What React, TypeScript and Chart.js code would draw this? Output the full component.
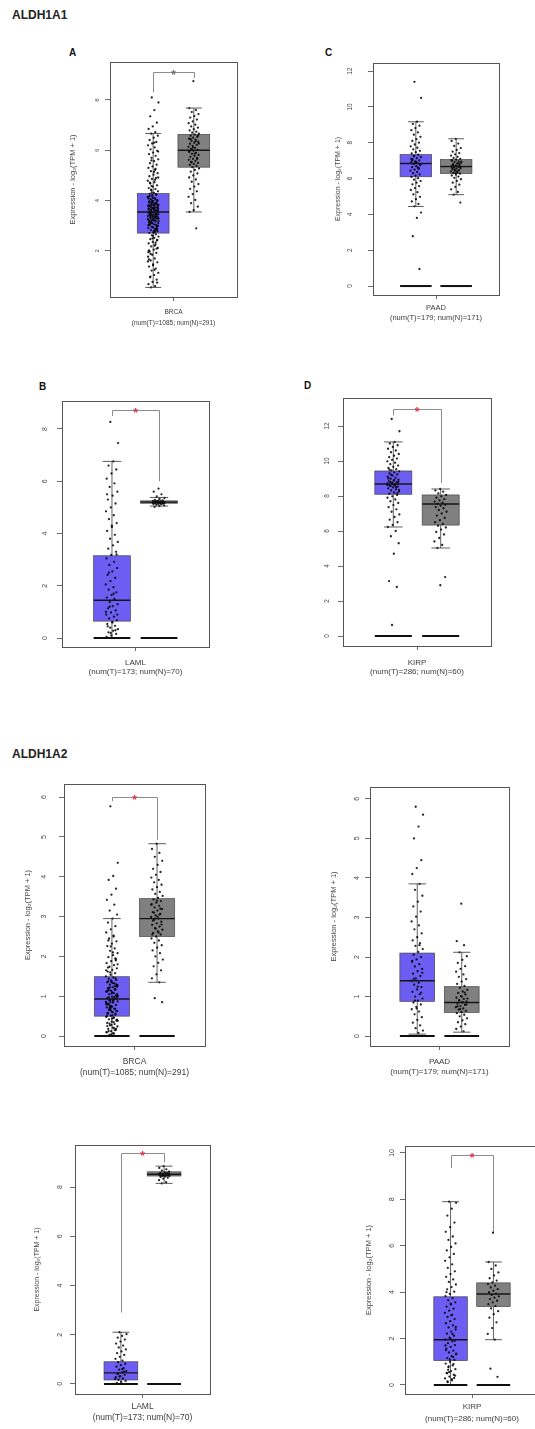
import React, { useEffect, useRef } from "react";
import { Chart, registerables } from "chart.js";

Chart.register(...registerables);

const FONT = '"Liberation Sans", Arial, Helvetica, sans-serif';
Chart.defaults.font.family = FONT;

const yTitleText = "Expression - log\u2082(TPM + 1)";
const groupNames = ["Tumor", "Normal"];
const groupCenters = [-0.32, 0.32];

// ---------------- ALDH1A1 / A: BRCA ----------------
const brca1Label = ["BRCA", "(num(T)=1085; num(N)=291)"];
const brca1Ticks = [2, 4, 6, 8];
const brca1Range = [0.17, 9.51];
const brca1TumorBox = [0.55, 2.71, 3.55, 4.28, 6.67];
const brca1NormalBox = [3.55, 5.33, 6.0, 6.63, 7.68];
const brca1Bracket = [8.3, 9.11, 8.87];
const brca1TumorPts = [8.1, 7.9, 7.6, 7.35, 7.1, 6.95, 6.85, 6.72, 6.66, 6.58, 6.5, 6.41, 6.33, 6.27, 6.2, 6.12, 6.04, 5.98, 5.91, 5.85, 5.78, 5.7, 5.64, 5.57, 5.49, 5.43, 5.36, 5.3, 5.22, 5.17, 5.09, 5.03, 4.97, 4.9, 4.86, 4.79, 4.73, 4.68, 4.61, 4.56, 4.5, 4.46, 4.41, 4.37, 4.31, 4.27, 4.23, 4.18, 4.14, 4.1, 4.06, 4.02, 3.98, 3.95, 3.91, 3.87, 3.83, 3.8, 3.77, 3.73, 3.69, 3.66, 3.62, 3.59, 3.56, 3.52, 3.49, 3.46, 3.42, 3.39, 3.35, 3.32, 3.28, 3.25, 3.21, 3.17, 3.14, 3.1, 3.06, 3.03, 2.99, 2.95, 2.91, 2.87, 2.83, 2.79, 2.75, 2.71, 2.66, 2.62, 2.57, 2.52, 2.47, 2.42, 2.36, 2.3, 2.25, 2.18, 2.12, 2.05, 1.98, 1.92, 1.85, 1.77, 1.7, 1.62, 1.55, 1.47, 1.38, 1.3, 1.22, 1.13, 1.04, 0.95, 0.86, 0.77, 0.68, 0.6, 0.55, 3.61, 3.44, 3.97, 2.88, 3.12, 4.15, 3.71, 3.33, 2.97, 3.55, 3.84, 4.05, 3.23, 3.68, 2.79, 3.49, 3.9, 4.22, 3.02, 3.37, 3.77, 3.58, 2.93, 3.15, 3.86, 4.33, 3.29, 3.64, 3.41, 2.84, 3.95, 3.53, 3.19, 4.44, 3.74, 2.72, 3.07, 3.47, 4.0, 3.26, 2.21, 1.88, 2.44, 2.6, 1.66, 2.33, 4.58, 4.92, 5.14, 4.71, 2.09, 2.5, 1.95, 4.83, 3.63, 3.36, 3.81, 3.05, 3.5, 3.93, 3.18, 3.72, 3.44, 2.9, 4.1, 3.57, 3.3, 3.85, 3.0, 3.66, 4.18, 3.39, 3.1, 3.78, 2.81, 3.54, 3.98, 3.22, 3.69, 4.26, 2.95, 3.46, 3.88, 3.13, 3.6, 3.35, 4.08, 2.76, 3.51, 3.82, 3.27, 3.95, 3.04, 3.71, 1.58, 1.25, 0.98, 0.74, 1.43, 2.02, 5.26, 5.6, 5.95, 6.3];
const brca1NormalPts = [8.75, 7.68, 7.6, 7.52, 7.44, 7.36, 7.3, 7.22, 7.15, 7.08, 7.02, 6.95, 6.9, 6.84, 6.79, 6.74, 6.7, 6.66, 6.62, 6.58, 6.54, 6.5, 6.46, 6.42, 6.38, 6.34, 6.3, 6.26, 6.22, 6.18, 6.14, 6.1, 6.06, 6.02, 5.98, 5.94, 5.9, 5.86, 5.82, 5.78, 5.74, 5.7, 5.66, 5.62, 5.58, 5.54, 5.5, 5.46, 5.42, 5.38, 5.33, 5.28, 5.22, 5.15, 5.08, 5.0, 4.92, 4.84, 4.75, 4.66, 4.56, 4.47, 4.37, 4.26, 4.15, 4.03, 3.9, 3.76, 3.62, 3.55, 2.9, 6.04, 6.27, 5.87, 6.45, 5.65, 6.12, 5.95, 6.36, 5.52, 6.58];

// ---------------- ALDH1A1 / C: PAAD ----------------
const paad1Label = ["PAAD", "(num(T)=179; num(N)=171)"];
const paad1Ticks = [0, 2, 4, 6, 8, 10, 12];
const paad1Range = [-0.5, 12.45];
const paad1TumorBox = [4.44, 6.1, 6.84, 7.34, 9.17];
const paad1NormalBox = [5.1, 6.28, 6.67, 7.06, 8.22];
const paad1TumorPts = [11.4, 10.5, 9.17, 9.05, 8.95, 8.82, 8.7, 8.58, 8.45, 8.33, 8.2, 8.1, 8.0, 7.9, 7.8, 7.72, 7.63, 7.55, 7.47, 7.4, 7.33, 7.27, 7.2, 7.14, 7.08, 7.02, 6.96, 6.9, 6.85, 6.8, 6.75, 6.69, 6.63, 6.57, 6.5, 6.44, 6.37, 6.3, 6.23, 6.16, 6.09, 6.02, 5.94, 5.86, 5.77, 5.68, 5.58, 5.47, 5.36, 5.24, 5.12, 4.98, 4.85, 4.72, 4.58, 4.45, 4.1, 3.8, 2.78, 0.95, 6.88, 7.1, 6.62, 7.25, 6.78, 6.93, 7.0, 6.55];
const paad1NormalPts = [8.22, 8.1, 7.95, 7.82, 7.7, 7.6, 7.5, 7.42, 7.35, 7.28, 7.21, 7.15, 7.1, 7.05, 7.0, 6.96, 6.92, 6.88, 6.84, 6.8, 6.76, 6.72, 6.69, 6.66, 6.62, 6.58, 6.55, 6.51, 6.47, 6.43, 6.39, 6.35, 6.31, 6.27, 6.22, 6.17, 6.11, 6.04, 5.96, 5.87, 5.77, 5.66, 5.54, 5.4, 5.25, 5.1, 4.66, 6.7, 6.6, 6.85, 6.5, 6.95, 6.4, 6.75, 6.65, 6.3, 7.03];

// ---------------- ALDH1A1 / B: LAML ----------------
const laml1Label = ["LAML", "(num(T)=173; num(N)=70)"];
const laml1Ticks = [0, 2, 4, 6, 8];
const laml1Range = [-0.34, 9.07];
const laml1TumorBox = [0, 0.65, 1.45, 3.15, 6.76];
const laml1NormalBox = [5.05, 5.16, 5.2, 5.25, 5.38];
const laml1Bracket = [8.5, 8.72, 6.0];
const laml1TumorPts = [8.27, 7.46, 6.76, 6.6, 6.45, 6.3, 6.1, 5.92, 5.78, 5.6, 5.45, 5.3, 5.15, 5.0, 4.85, 4.7, 4.55, 4.4, 4.25, 4.1, 3.95, 3.8, 3.68, 3.55, 3.42, 3.3, 3.18, 3.05, 2.92, 2.8, 2.68, 2.55, 2.42, 2.3, 2.18, 2.05, 1.95, 1.85, 1.75, 1.65, 1.55, 1.46, 1.38, 1.3, 1.22, 1.14, 1.06, 0.98, 0.9, 0.82, 0.75, 0.68, 0.61, 0.54, 0.47, 0.4, 0.34, 0.28, 0.22, 0.16, 0.1, 0.05, 1.5, 1.2, 0.9, 0.6, 0.45, 0.3, 0.2, 1.0, 1.7, 2.5, 3.2, 4.3, 5.5];
const laml1NormalPts = [5.72, 5.6, 5.5, 5.42, 5.36, 5.32, 5.29, 5.27, 5.25, 5.24, 5.23, 5.22, 5.21, 5.2, 5.2, 5.19, 5.19, 5.18, 5.17, 5.16, 5.15, 5.14, 5.13, 5.12, 5.1, 5.08, 5.05, 5.02, 5.21, 5.23, 5.18, 5.2, 5.22, 5.17];

// ---------------- ALDH1A1 / D: KIRP ----------------
const kirp1Label = ["KIRP", "(num(T)=286; num(N)=60)"];
const kirp1Ticks = [0, 2, 4, 6, 8, 10, 12];
const kirp1Range = [-0.57, 13.6];
const kirp1TumorBox = [6.23, 8.1, 8.69, 9.43, 11.09];
const kirp1NormalBox = [5.03, 6.34, 7.54, 8.06, 8.4];
const kirp1Bracket = [12.6, 12.97, 8.75];
const kirp1TumorPts = [12.4, 11.7, 11.09, 11.0, 10.9, 10.8, 10.7, 10.6, 10.5, 10.4, 10.3, 10.22, 10.14, 10.06, 9.98, 9.9, 9.82, 9.74, 9.67, 9.6, 9.53, 9.47, 9.41, 9.35, 9.29, 9.23, 9.17, 9.11, 9.05, 8.99, 8.94, 8.89, 8.84, 8.79, 8.74, 8.69, 8.64, 8.59, 8.54, 8.49, 8.44, 8.38, 8.32, 8.26, 8.2, 8.13, 8.06, 7.98, 7.9, 7.8, 7.7, 7.6, 7.48, 7.36, 7.24, 7.1, 6.95, 6.8, 6.65, 6.5, 6.35, 6.23, 6.0, 5.7, 5.3, 4.7, 3.14, 2.8, 0.63, 8.7, 8.6, 8.8, 8.72, 8.66, 9.0, 8.5, 9.2, 8.35, 8.9, 9.5, 8.15, 8.76, 8.62, 8.68, 8.57, 8.83];
const kirp1NormalPts = [8.4, 8.32, 8.25, 8.15, 8.06, 7.98, 7.9, 7.82, 7.75, 7.68, 7.62, 7.56, 7.5, 7.44, 7.37, 7.3, 7.2, 7.1, 7.0, 6.88, 6.75, 6.62, 6.5, 6.4, 6.3, 6.2, 6.08, 5.95, 5.8, 5.6, 5.4, 5.2, 5.03, 3.37, 2.9];

// ---------------- ALDH1A2: BRCA ----------------
const brca2Label = ["BRCA", "(num(T)=1085; num(N)=291)"];
const brca2Ticks = [0, 1, 2, 3, 4, 5, 6];
const brca2Range = [-0.25, 6.33];
const brca2TumorBox = [0, 0.5, 0.93, 1.49, 2.95];
const brca2NormalBox = [1.35, 2.5, 2.95, 3.45, 4.83];
const brca2Bracket = [5.9, 6.0, 4.93];
const brca2TumorPts = [5.77, 4.35, 4.02, 3.92, 3.7, 3.55, 3.42, 3.3, 3.15, 3.05, 2.95, 2.85, 2.76, 2.68, 2.6, 2.52, 2.45, 2.38, 2.32, 2.26, 2.2, 2.14, 2.08, 2.03, 1.98, 1.93, 1.88, 1.83, 1.78, 1.74, 1.7, 1.66, 1.62, 1.58, 1.54, 1.5, 1.47, 1.44, 1.41, 1.38, 1.35, 1.32, 1.29, 1.26, 1.23, 1.2, 1.17, 1.14, 1.11, 1.08, 1.05, 1.02, 0.99, 0.96, 0.93, 0.9, 0.87, 0.84, 0.81, 0.78, 0.75, 0.72, 0.69, 0.66, 0.63, 0.6, 0.57, 0.54, 0.51, 0.48, 0.45, 0.42, 0.39, 0.36, 0.33, 0.3, 0.27, 0.24, 0.21, 0.18, 0.15, 0.12, 0.09, 0.06, 0.03, 0.95, 1.1, 0.8, 1.25, 0.7, 1.0, 0.88, 1.15, 0.62, 1.35, 0.5, 0.98, 0.77, 1.05, 0.92, 1.2, 0.55, 1.4, 0.83, 0.35, 0.66, 1.3, 0.44, 0.25, 0.15, 1.6, 1.8, 2.1, 2.4, 1.9, 0.04, 0.1, 0.2, 0.31, 0.41, 0.52, 0.58, 0.68, 0.73, 0.86, 0.91, 0.97, 1.03, 1.07, 1.13, 1.18, 1.22, 1.28, 1.33, 1.37, 1.45, 0.64, 0.79, 0.47, 0.9, 1.01, 0.74, 0.56, 1.16, 0.85, 0.38, 0.07, 0.12, 0.18, 0.28, 1.12, 0.94, 0.71, 1.24, 0.6, 1.72, 1.95, 2.25, 1.65, 2.5];
const brca2NormalPts = [4.83, 4.7, 4.6, 4.5, 4.4, 4.3, 4.2, 4.12, 4.05, 3.98, 3.92, 3.86, 3.8, 3.74, 3.68, 3.62, 3.57, 3.52, 3.47, 3.43, 3.39, 3.35, 3.31, 3.27, 3.23, 3.19, 3.15, 3.11, 3.07, 3.03, 2.99, 2.95, 2.91, 2.87, 2.83, 2.79, 2.75, 2.71, 2.67, 2.63, 2.59, 2.55, 2.5, 2.45, 2.4, 2.34, 2.28, 2.22, 2.15, 2.08, 2.0, 1.92, 1.84, 1.75, 1.65, 1.55, 1.45, 1.35, 0.95, 0.85, 3.0, 2.9, 3.2, 2.7, 3.3, 2.6, 3.1, 2.8, 3.4, 2.55, 3.05, 2.95];

// ---------------- ALDH1A2: PAAD ----------------
const paad2Label = ["PAAD", "(num(T)=179; num(N)=171)"];
const paad2Ticks = [0, 1, 2, 3, 4, 5, 6];
const paad2Range = [-0.25, 6.3];
const paad2TumorBox = [0.05, 0.88, 1.4, 2.1, 3.85];
const paad2NormalBox = [0.1, 0.6, 0.85, 1.25, 2.12];
const paad2TumorPts = [5.8, 5.6, 5.3, 5.0, 4.45, 4.25, 4.1, 3.85, 3.7, 3.55, 3.4, 3.28, 3.15, 3.02, 2.9, 2.8, 2.7, 2.6, 2.5, 2.42, 2.35, 2.28, 2.2, 2.13, 2.06, 2.0, 1.94, 1.88, 1.82, 1.76, 1.7, 1.64, 1.58, 1.52, 1.46, 1.4, 1.35, 1.3, 1.24, 1.18, 1.12, 1.06, 1.0, 0.95, 0.9, 0.85, 0.8, 0.74, 0.68, 0.62, 0.55, 0.48, 0.41, 0.34, 0.27, 0.2, 0.14, 0.08, 1.45, 1.1, 0.7, 1.9, 2.3, 0.9, 1.6, 1.25];
const paad2NormalPts = [3.35, 2.4, 2.3, 2.12, 2.02, 1.93, 1.85, 1.77, 1.7, 1.63, 1.56, 1.5, 1.44, 1.38, 1.32, 1.27, 1.22, 1.17, 1.13, 1.09, 1.05, 1.01, 0.97, 0.94, 0.91, 0.88, 0.85, 0.82, 0.79, 0.76, 0.73, 0.7, 0.67, 0.64, 0.61, 0.58, 0.54, 0.5, 0.45, 0.4, 0.35, 0.3, 0.24, 0.18, 0.12, 0.9, 0.8, 1.0, 0.75, 1.1, 0.68, 0.95, 0.86];

// ---------------- ALDH1A2: LAML ----------------
const laml2Label = ["LAML", "(num(T)=173; num(N)=70)"];
const laml2Ticks = [0, 2, 4, 6, 8];
const laml2Range = [-0.41, 9.71];
const laml2TumorBox = [0, 0.16, 0.45, 0.9, 2.1];
const laml2NormalBox = [8.15, 8.45, 8.52, 8.62, 8.85];
const laml2Bracket = [2.9, 9.38, 9.0];
const laml2TumorPts = [2.1, 2.02, 1.95, 1.88, 1.8, 1.72, 1.64, 1.56, 1.48, 1.4, 1.32, 1.25, 1.18, 1.1, 1.02, 0.95, 0.88, 0.82, 0.76, 0.7, 0.64, 0.58, 0.52, 0.47, 0.42, 0.37, 0.32, 0.27, 0.22, 0.17, 0.12, 0.08, 0.04, 0.5, 0.3, 0.2, 0.6, 0.4];
const laml2NormalPts = [8.85, 8.78, 8.72, 8.67, 8.63, 8.6, 8.58, 8.56, 8.54, 8.53, 8.52, 8.51, 8.5, 8.49, 8.48, 8.47, 8.46, 8.45, 8.43, 8.41, 8.38, 8.34, 8.28, 8.2, 8.15, 8.55, 8.5, 8.52, 8.57, 8.47];

// ---------------- ALDH1A2: KIRP ----------------
const kirp2Label = ["KIRP", "(num(T)=286; num(N)=60)"];
const kirp2Ticks = [0, 2, 4, 6, 8, 10];
const kirp2Range = [-0.39, 10.3];
const kirp2TumorBox = [0, 1.05, 1.95, 3.8, 7.9];
const kirp2NormalBox = [1.95, 3.38, 3.92, 4.4, 5.3];
const kirp2Bracket = [9.35, 9.9, 6.6];
const kirp2TumorPts = [7.9, 7.85, 7.6, 7.3, 7.0, 6.8, 6.6, 6.4, 6.25, 6.1, 5.95, 5.8, 5.65, 5.5, 5.35, 5.2, 5.05, 4.9, 4.78, 4.66, 4.55, 4.44, 4.33, 4.22, 4.12, 4.02, 3.92, 3.83, 3.74, 3.65, 3.56, 3.47, 3.38, 3.29, 3.2, 3.11, 3.02, 2.93, 2.84, 2.75, 2.66, 2.57, 2.48, 2.39, 2.3, 2.21, 2.12, 2.04, 1.96, 1.88, 1.8, 1.72, 1.64, 1.56, 1.48, 1.4, 1.32, 1.24, 1.16, 1.08, 1.0, 0.92, 0.84, 0.76, 0.68, 0.6, 0.52, 0.44, 0.36, 0.28, 0.2, 0.12, 1.9, 2.0, 1.5, 1.2, 0.8, 2.5, 3.0, 0.5, 0.3, 1.1, 1.7, 2.2, 0.65, 0.4, 3.5, 4.0, 0.9, 0.55, 1.35, 0.25, 0.15];
const kirp2NormalPts = [6.56, 5.3, 5.15, 5.0, 4.85, 4.72, 4.6, 4.5, 4.42, 4.35, 4.28, 4.2, 4.13, 4.06, 4.0, 3.94, 3.88, 3.82, 3.76, 3.7, 3.63, 3.56, 3.48, 3.4, 3.3, 3.18, 3.05, 2.9, 2.7, 2.45, 2.2, 1.95, 0.7, 0.35];

// ---------------- styles ----------------
const TUMOR_COLOR = "rgb(108, 94, 242)";
const NORMAL_COLOR = "rgb(128, 128, 128)";
const RED_STAR = "rgb(226, 50, 70)";
const GRAY_STAR = "rgb(110, 110, 110)";
const BOX_HALF = 0.25;
const JITTER = 0.085;

function jit(i: number) {
  return ((i * 0.6180339887 + 0.37) % 1) - 0.5;
}

type PanelDef = {
  key: string;
  frame: [number, number, number, number];
  titleX: number | null;
  titleSize: number;
  tickSize: number;
  tickPad: number;
  xSize: number;
  xLine: number;
  xPad: number;
  label: string[];
  ticks: number[];
  range: number[];
  boxes: number[][];
  points: number[][];
  zero: boolean;
  bracket: number[] | null;
  star: string;
};

const panels: PanelDef[] = [
  { key: "A", frame: [110, 62, 237, 297], titleX: 72, titleSize: 7.5, tickSize: 6, tickPad: 6, xSize: 6.5, xLine: 11, xPad: 5.5,
    label: brca1Label, ticks: brca1Ticks, range: brca1Range, boxes: [brca1TumorBox, brca1NormalBox], points: [brca1TumorPts, brca1NormalPts], zero: false, bracket: brca1Bracket, star: GRAY_STAR },
  { key: "C", frame: [373, 63, 499, 295], titleX: 338, titleSize: 7, tickSize: 6.5, tickPad: 14, xSize: 7.5, xLine: 10, xPad: 4,
    label: paad1Label, ticks: paad1Ticks, range: paad1Range, boxes: [paad1TumorBox, paad1NormalBox], points: [paad1TumorPts, paad1NormalPts], zero: true, bracket: null, star: RED_STAR },
  { key: "B", frame: [62, 401, 209, 647], titleX: null, titleSize: 7, tickSize: 7, tickPad: 10, xSize: 8, xLine: 9.5, xPad: 7,
    label: laml1Label, ticks: laml1Ticks, range: laml1Range, boxes: [laml1TumorBox, laml1NormalBox], points: [laml1TumorPts, laml1NormalPts], zero: true, bracket: laml1Bracket, star: RED_STAR },
  { key: "D", frame: [343, 398, 491, 646], titleX: null, titleSize: 7, tickSize: 6.5, tickPad: 7, xSize: 8, xLine: 9, xPad: 8.5,
    label: kirp1Label, ticks: kirp1Ticks, range: kirp1Range, boxes: [kirp1TumorBox, kirp1NormalBox], points: [kirp1TumorPts, kirp1NormalPts], zero: true, bracket: kirp1Bracket, star: RED_STAR },
  { key: "E", frame: [64, 784, 205, 1046], titleX: 27, titleSize: 7.5, tickSize: 7, tickPad: 12.5, xSize: 8.5, xLine: 10.5, xPad: 6.5,
    label: brca2Label, ticks: brca2Ticks, range: brca2Range, boxes: [brca2TumorBox, brca2NormalBox], points: [brca2TumorPts, brca2NormalPts], zero: true, bracket: brca2Bracket, star: RED_STAR },
  { key: "F", frame: [370, 787, 509, 1046], titleX: 333, titleSize: 7.5, tickSize: 7, tickPad: 6, xSize: 8, xLine: 10.5, xPad: 6.5,
    label: paad2Label, ticks: paad2Ticks, range: paad2Range, boxes: [paad2TumorBox, paad2NormalBox], points: [paad2TumorPts, paad2NormalPts], zero: true, bracket: null, star: RED_STAR },
  { key: "G", frame: [75, 1145, 210, 1394], titleX: 37, titleSize: 7, tickSize: 7, tickPad: 8, xSize: 8.5, xLine: 11, xPad: 3.5,
    label: laml2Label, ticks: laml2Ticks, range: laml2Range, boxes: [laml2TumorBox, laml2NormalBox], points: [laml2TumorPts, laml2NormalPts], zero: true, bracket: laml2Bracket, star: RED_STAR },
  { key: "H", frame: [405, 1146, 539, 1394], titleX: 368, titleSize: 7.5, tickSize: 7, tickPad: 4, xSize: 8, xLine: 12, xPad: 3,
    label: kirp2Label, ticks: kirp2Ticks, range: kirp2Range, boxes: [kirp2TumorBox, kirp2NormalBox], points: [kirp2TumorPts, kirp2NormalPts], zero: true, bracket: kirp2Bracket, star: RED_STAR },
];

const MT = 30, MR = 10, MB = 45, TICK_LEN = 5, X_TICK_LEN = 4;

function geometry(p: PanelDef) {
  const [l, t, r, b] = p.frame;
  const left = p.titleX != null ? Math.round(p.titleX - 0.6 * p.titleSize) : l - 30;
  const ml = l - left;
  return { left, top: t - MT, ml, width: ml + (r - l) + MR, height: MT + (b - t) + MB };
}

const gepiaPlugin = {
  id: "gepia",
  beforeDatasetsDraw(chart: any, _args: any, opts: any) {
    const { ctx, scales } = chart;
    const xs = scales.x, ys = scales.y;
    const Y = (v: number) => ys.getPixelForValue(v);
    const X = (v: number) => xs.getPixelForValue(v);
    ctx.save();
    if (opts.bracket) {
      const [lb, top, rb] = opts.bracket;
      const x1 = Math.round(X(groupCenters[0])) + 0.5;
      const x2 = Math.round(X(groupCenters[1])) + 0.5;
      const yt = Math.round(Y(top)) + 0.5;
      ctx.strokeStyle = "rgb(140,140,140)";
      ctx.lineWidth = 1;
      ctx.beginPath();
      ctx.moveTo(x1, Y(lb));
      ctx.lineTo(x1, yt);
      ctx.lineTo(x2, yt);
      ctx.lineTo(x2, Y(rb));
      ctx.stroke();
    }
    opts.boxes.forEach((st: number[], gi: number) => {
      const [lo, q1, , q3, hi] = st;
      const c = groupCenters[gi];
      const xl = X(c - BOX_HALF), xr = X(c + BOX_HALF), xc = X(c);
      ctx.strokeStyle = "rgb(60,60,60)";
      ctx.lineWidth = 0.8;
      ctx.beginPath();
      ctx.moveTo(xc, Y(hi)); ctx.lineTo(xc, Y(q3));
      ctx.moveTo(xc, Y(q1)); ctx.lineTo(xc, Y(lo));
      ctx.stroke();
      ctx.fillStyle = gi === 0 ? TUMOR_COLOR : NORMAL_COLOR;
      ctx.fillRect(xl, Y(q3), xr - xl, Y(q1) - Y(q3));
      ctx.strokeStyle = "rgb(70,70,70)";
      ctx.lineWidth = 0.7;
      ctx.strokeRect(xl, Y(q3), xr - xl, Y(q1) - Y(q3));
    });
    ctx.restore();
  },
  afterDatasetsDraw(chart: any, _args: any, opts: any) {
    const { ctx, chartArea, scales } = chart;
    const xs = scales.x, ys = scales.y;
    const Y = (v: number) => ys.getPixelForValue(v);
    const X = (v: number) => xs.getPixelForValue(v);
    ctx.save();
    opts.boxes.forEach((st: number[], gi: number) => {
      const [lo, , med, , hi] = st;
      const c = groupCenters[gi];
      const xl = X(c - BOX_HALF), xr = X(c + BOX_HALF);
      const sl = X(c - BOX_HALF / 2), sr = X(c + BOX_HALF / 2);
      ctx.strokeStyle = "rgb(20,20,20)";
      ctx.lineWidth = 1.4;
      ctx.beginPath();
      ctx.moveTo(xl, Y(med)); ctx.lineTo(xr, Y(med));
      ctx.stroke();
      ctx.strokeStyle = "rgb(50,50,50)";
      ctx.lineWidth = 0.8;
      ctx.beginPath();
      ctx.moveTo(sl, Y(hi)); ctx.lineTo(sr, Y(hi));
      ctx.moveTo(sl, Y(lo)); ctx.lineTo(sr, Y(lo));
      ctx.stroke();
      if (opts.zero) {
        ctx.strokeStyle = "rgb(15,15,15)";
        ctx.lineWidth = 2;
        ctx.beginPath();
        ctx.moveTo(xl, Y(0)); ctx.lineTo(xr, Y(0));
        ctx.stroke();
      }
    });
    if (opts.bracket) {
      const mx = (X(groupCenters[0]) + X(groupCenters[1])) / 2;
      const yt = Y(opts.bracket[1]);
      ctx.fillStyle = opts.star;
      ctx.font = `bold 12px ${FONT}`;
      ctx.textAlign = "center";
      ctx.textBaseline = "alphabetic";
      ctx.fillText("*", mx, yt + 6.5);
    }
    ctx.strokeStyle = "rgb(85,85,85)";
    ctx.lineWidth = 1;
    ctx.strokeRect(Math.round(chartArea.left) + 0.5, Math.round(chartArea.top) + 0.5,
      Math.round(chartArea.right - chartArea.left), Math.round(chartArea.bottom - chartArea.top));
    ctx.restore();
  },
};

function buildConfig(p: PanelDef, g: any) {
  const datasets = p.points.map((pts, gi) => ({
    type: "scatter",
    label: groupNames[gi],
    data: pts.map((v, i) => ({ x: groupCenters[gi] + jit(i + gi * 5) * 2 * JITTER, y: v })),
    pointRadius: 1.15,
    pointHoverRadius: 0,
    pointBackgroundColor: "rgba(0,0,0,0.85)",
    pointBorderWidth: 0,
    showLine: false,
  }));
  const tickGrid = { display: true, drawOnChartArea: false, drawTicks: true, color: "rgb(70,70,70)", lineWidth: 0.8 };
  return {
    type: "scatter",
    data: { datasets },
    plugins: [gepiaPlugin],
    options: {
      animation: false,
      responsive: false,
      maintainAspectRatio: false,
      devicePixelRatio: 1,
      events: [],
      layout: { padding: { left: 0, top: MT, right: MR, bottom: 0 } },
      plugins: {
        legend: { display: false },
        tooltip: { enabled: false },
        title: { display: false },
        gepia: { boxes: p.boxes, bracket: p.bracket, zero: p.zero, star: p.star },
      },
      scales: {
        x: {
          type: "linear",
          min: -1,
          max: 1,
          afterBuildTicks: (s: any) => { s.ticks = [{ value: 0 }]; },
          afterFit: (s: any) => { s.height = MB; },
          grid: { ...tickGrid, tickLength: X_TICK_LEN },
          border: { display: false },
          ticks: {
            autoSkip: false,
            maxRotation: 0,
            padding: p.xPad,
            color: "rgb(60,60,60)",
            font: { family: FONT, size: p.xSize, lineHeight: p.xLine / p.xSize },
            callback: () => p.label,
          },
        },
        y: {
          type: "linear",
          min: p.range[0],
          max: p.range[1],
          afterBuildTicks: (s: any) => { s.ticks = p.ticks.map((v) => ({ value: v })); },
          afterFit: (s: any) => { s.width = g.ml; },
          grid: { ...tickGrid, tickLength: TICK_LEN },
          border: { display: false },
          ticks: {
            autoSkip: false,
            minRotation: 90,
            maxRotation: 90,
            crossAlign: "center",
            padding: p.tickPad,
            color: "rgb(70,70,70)",
            font: { family: FONT, size: p.tickSize },
            callback: (v: any) => String(v),
          },
          title: {
            display: p.titleX != null,
            text: yTitleText,
            color: "rgb(70,70,70)",
            padding: 0,
            font: { family: FONT, size: p.titleSize, lineHeight: 1.2 },
          },
        },
      },
    },
  };
}

function Panel({ p }: { p: PanelDef }) {
  const ref = useRef<HTMLCanvasElement | null>(null);
  const g = geometry(p);
  useEffect(() => {
    if (!ref.current) return;
    const chart = new Chart(ref.current, buildConfig(p, g) as any);
    return () => chart.destroy();
  }, []);
  return (
    <canvas
      ref={ref}
      width={g.width}
      height={g.height}
      style={{ position: "absolute", left: g.left, top: g.top, width: g.width, height: g.height }}
    />
  );
}

const headStyle: React.CSSProperties = {
  position: "absolute",
  fontFamily: FONT,
  fontWeight: 700,
  fontSize: 12,
  lineHeight: "12px",
  color: "#222",
  whiteSpace: "nowrap",
};
const letterStyle: React.CSSProperties = {
  position: "absolute",
  fontFamily: FONT,
  fontWeight: 700,
  fontSize: 10,
  lineHeight: "10px",
  color: "#111",
};

const headings = [
  { text: "ALDH1A1", left: 12, top: 9 },
  { text: "ALDH1A2", left: 12, top: 748 },
];
const letters = [
  { text: "A", left: 69, top: 48 },
  { text: "C", left: 325, top: 48 },
  { text: "B", left: 39, top: 382 },
  { text: "D", left: 304, top: 381 },
];

export default function App() {
  return (
    <div style={{ position: "absolute", left: 0, top: 0, width: 535, height: 1429, overflow: "hidden", background: "#fff" }}>
      {headings.map((h) => (
        <div key={h.text} style={{ ...headStyle, left: h.left, top: h.top }}>{h.text}</div>
      ))}
      {letters.map((l) => (
        <div key={l.text} style={{ ...letterStyle, left: l.left, top: l.top }}>{l.text}</div>
      ))}
      {panels.map((p) => (
        <Panel key={p.key} p={p} />
      ))}
    </div>
  );
}
